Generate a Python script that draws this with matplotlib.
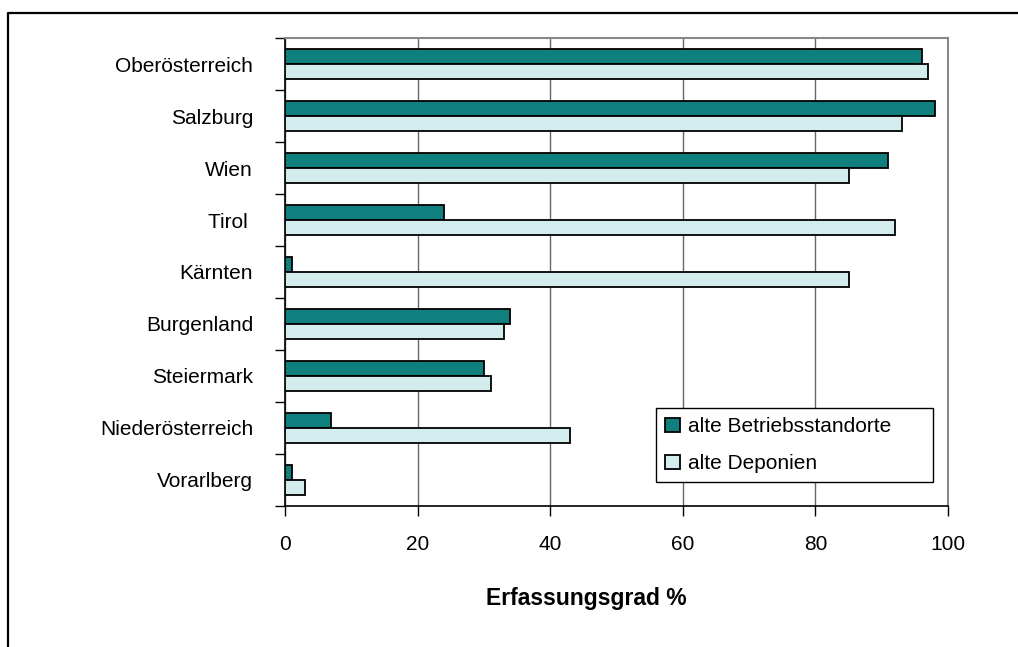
# coding: UTF-8
import numpy as np
from matplotlib import pyplot as plt
from matplotlib.lines import Line2D
from matplotlib.ticker import FixedLocator, NullFormatter

plt.rcParams['font.family'] = ['Liberation Sans', 'DejaVu Sans']

# Bundesländer, von oben nach unten
laender = ['Oberösterreich', 'Salzburg', 'Wien', 'Tirol ', 'Kärnten',
           'Burgenland', 'Steiermark', 'Niederösterreich', 'Vorarlberg']
# Erfassungsgrad in %
betriebsstandorte = [96, 98, 91, 24, 1, 34, 30, 7, 1]
deponien = [97, 93, 85, 92, 85, 33, 31, 43, 3]

col_dark = '#0f807e'
col_light = '#d3ecee'

fig = plt.figure(figsize=(10.18, 6.47), dpi=100)
ax = fig.add_axes([0.2800, 0.2184, 0.6513, 0.7224])

y = np.arange(len(laender))
h = 0.285
b1 = ax.barh(y - h/2, betriebsstandorte, height=h, color=col_dark,
             edgecolor='black', linewidth=1.3, label='alte Betriebsstandorte', zorder=3)
b2 = ax.barh(y + h/2, deponien, height=h, color=col_light,
             edgecolor='black', linewidth=1.3, label='alte Deponien', zorder=3)

ax.set_xlim(0, 100)
ax.set_ylim(len(laender) - 0.5, -0.5)

# x-Achse
ax.set_xticks([0, 20, 40, 60, 80, 100])
ax.xaxis.grid(True, color='#666666', linewidth=1.0, zorder=0)
ax.tick_params(axis='x', direction='out', length=7, width=1, pad=14, labelsize=15)

# y-Achse: Striche zwischen den Kategorien, Beschriftung in der Mitte
ax.yaxis.set_major_locator(FixedLocator(np.arange(-0.5, len(laender), 1.0)))
ax.yaxis.set_major_formatter(NullFormatter())
ax.yaxis.set_minor_locator(FixedLocator(y))
ax.set_yticklabels(laender, minor=True)
ax.tick_params(axis='y', which='major', direction='out', length=7, width=1)
ax.tick_params(axis='y', which='minor', length=0, pad=23, labelsize=15)

ax.spines['left'].set_color('black')
ax.spines['bottom'].set_color('black')
ax.spines['left'].set_linewidth(1.2)
ax.spines['bottom'].set_linewidth(1.2)
ax.spines['top'].set_color('#888888')
ax.spines['right'].set_color('#888888')
ax.spines['top'].set_linewidth(1.5)
ax.spines['right'].set_linewidth(1.5)

ax.set_xlabel('Erfassungsgrad %', fontsize=16.5, fontweight='bold', va='center')
ax.xaxis.set_label_coords(0.454, -0.198)

leg = ax.legend(loc='upper left', bbox_to_anchor=(0.559, 0.051, 0.418, 0.158),
                mode='expand', fontsize=15, frameon=True, fancybox=False,
                edgecolor='black', framealpha=1, borderaxespad=0,
                handlelength=0.7, handleheight=0.7, handletextpad=0.4,
                labelspacing=0.85, borderpad=0.45)
leg.get_frame().set_linewidth(1.0)
leg.set_zorder(5)

# Rahmen um die Grafik (links und oben)
fig.add_artist(Line2D([8/1018, 8/1018, 1.0], [0.0, 1 - 13/647, 1 - 13/647],
                      color='black', linewidth=1.6, transform=fig.transFigure))

plt.savefig('out.png', dpi=100)
